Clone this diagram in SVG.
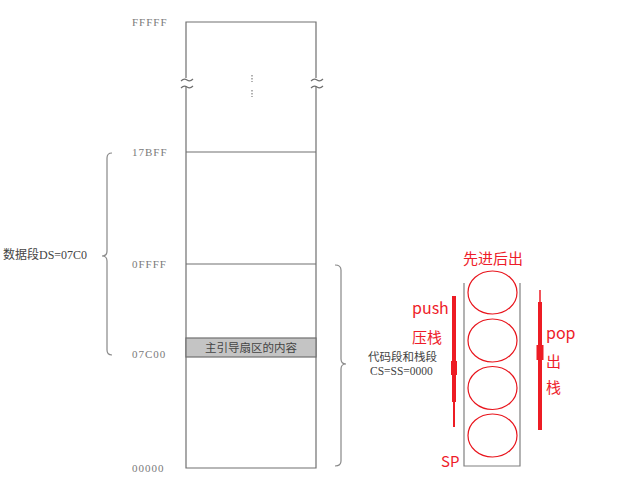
<svg xmlns="http://www.w3.org/2000/svg" width="633" height="480" viewBox="0 0 633 480">
<style>
.mem{fill:none;stroke:#707070;stroke-width:1.2}
.addr{font-family:"Liberation Serif",serif;font-size:11px;fill:#7a7a7a;letter-spacing:1px}
.lab{font-family:"Liberation Serif","Noto Sans CJK SC",serif;font-size:11.5px;fill:#444}
.brace{fill:none;stroke:#888;stroke-width:1.2}
.red{font-family:"Noto Sans CJK SC","Noto Sans",sans-serif;font-size:15px;fill:#ee1c2a}
.cell{fill:none;stroke:#e8141c;stroke-width:1.2}
.bar{stroke:#ed1c24;fill:none}
</style>
<rect width="633" height="480" fill="#fff"/>
<g id="memory">
  <path class="mem" d="M186,78 V22 H316 V78"/>
  <path class="mem" d="M186,86 V468 H316 V86"/>
  <path class="mem" d="M181,81 q3,-3 6,-1 q3,2 6,-1"/>
  <path class="mem" d="M181,88 q3,-3 6,-1 q3,2 6,-1"/>
  <path class="mem" d="M311,81 q3,-3 6,-1 q3,2 6,-1"/>
  <path class="mem" d="M311,88 q3,-3 6,-1 q3,2 6,-1"/>
  <path d="M252,75 V82 M252,90 V97" stroke="#888" stroke-width="1.3" stroke-dasharray="1.5,1.5"/>
  <line class="mem" x1="186" y1="152" x2="316" y2="152"/>
  <line class="mem" x1="186" y1="264" x2="316" y2="264"/>
  <rect x="186" y="338" width="130" height="19" fill="#c4c4c4" stroke="#707070" stroke-width="1.2"/>
  <text class="lab" x="251" y="352" text-anchor="middle" fill="#444">主引导扇区的内容</text>
</g>
<g id="addresses">
  <text class="addr" x="132" y="26">FFFFF</text>
  <text class="addr" x="132" y="156">17BFF</text>
  <text class="addr" x="132" y="268">0FFFF</text>
  <text class="addr" x="132" y="358">07C00</text>
  <text class="addr" x="132" y="472">00000</text>
</g>
<g id="ds-brace">
  <path class="brace" d="M112,153 Q107,153 107,158 V251 Q107,256 102,256 Q107,256 107,261 V350 Q107,355 112,355"/>
  <text class="lab" x="3" y="259" style="font-size:12px" fill="#333">数据段DS=07C0</text>
</g>
<g id="cs-brace">
  <path class="brace" d="M335,265 Q341,265 341,270 V359 Q341,364 346,364 Q341,364 341,369 V461 Q341,466 335,466"/>
  <text class="lab" x="368" y="361">代码段和栈段</text>
  <text class="lab" x="370" y="375">CS=SS=0000</text>
</g>
<g id="stack">
  <path d="M464,283 V466 H520 V283" fill="none" stroke="#808080" stroke-width="1.2"/>
  <ellipse class="cell" cx="492.5" cy="292.5" rx="24.5" ry="21.5"/>
  <ellipse class="cell" cx="492.5" cy="340.5" rx="24.5" ry="21.5"/>
  <ellipse class="cell" cx="492.5" cy="388" rx="24.5" ry="21.5"/>
  <ellipse class="cell" cx="492.5" cy="435.5" rx="24.5" ry="21.5"/>
  <text class="red" x="463" y="264">先进后出</text>
  <text class="red" x="441" y="467">SP</text>
</g>
<g id="push">
  <line class="bar" x1="454" y1="296" x2="454" y2="402" stroke-width="4"/>
  <rect x="451" y="361" width="6" height="14" fill="#ed1c24"/>
  <line class="bar" x1="454" y1="400" x2="454" y2="427" stroke-width="2"/>
  <text class="red" x="412" y="314" style="font-size:16px">push</text>
  <text class="red" x="412" y="343">压栈</text>
</g>
<g id="pop">
  <line class="bar" x1="540" y1="290" x2="540" y2="304" stroke-width="1.5"/>
  <line class="bar" x1="540" y1="302" x2="540" y2="430" stroke-width="4"/>
  <rect x="536.5" y="345" width="7" height="15" fill="#ed1c24"/>
  <text class="red" x="546" y="339" style="font-size:16px">pop</text>
  <text class="red" x="546" y="367">出</text>
  <text class="red" x="546" y="393">栈</text>
</g>
</svg>
